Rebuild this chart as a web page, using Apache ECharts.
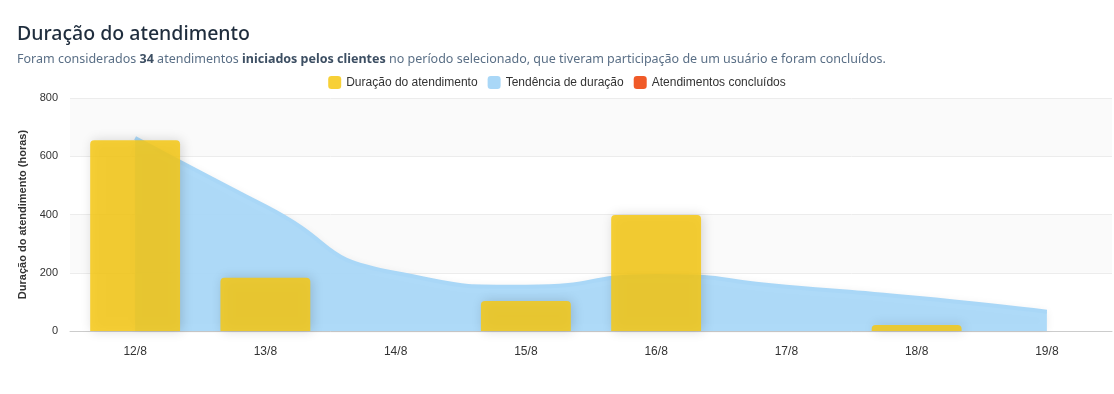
<!DOCTYPE html>
<html>
<head>
<meta charset="utf-8">
<script src="https://cdn.jsdelivr.net/npm/echarts@6/dist/echarts.min.js"></script>
<style>
  html, body { margin: 0; padding: 0; background: #fff; }
  #chart { width: 1114px; height: 394px; }
</style>
</head>
<body>
<div id="chart"></div>
<script>
// dados
const dias = ['12/8', '13/8', '14/8', '15/8', '16/8', '17/8', '18/8', '19/8'];
const duracaoHoras = [655, 183, 0, 103, 398, 0, 21, 0];
const tendencia = [663, 428, 199, 152, 189, 152, 114, 66];
const concluidos = [];
const yTicks = [0, 200, 400, 600, 800];

const chart = echarts.init(document.getElementById('chart'));

const option = {
  animation: false,
  title: {
    left: 12,
    top: 19,
    text: 'Duração do atendimento',
    textStyle: { fontFamily: 'Noto Sans', fontSize: 19.5, fontWeight: 500, color: '#1f2d3d' },
    subtext: 'Foram considerados {b|34} atendimentos {b|iniciados pelos clientes} no período selecionado, que tiveram participação de um usuário e foram concluídos.',
    itemGap: 9,
    subtextStyle: {
      fontFamily: 'Noto Sans', fontSize: 12.5, color: '#5a6f86',
      rich: { b: { fontFamily: 'Noto Sans', fontSize: 12.5, fontWeight: 'bold', color: '#3d4f63' } }
    }
  },
  legend: {
    top: 71,
    left: 'center',
    icon: 'roundRect',
    itemWidth: 13,
    itemHeight: 13,
    itemGap: 10,
    textStyle: { fontFamily: 'Liberation Sans', fontSize: 12, color: '#333' },
    data: ['Duração do atendimento', 'Tendência de duração', 'Atendimentos concluídos']
  },
  grid: { left: 70, right: 2, top: 98, bottom: 63 },
  xAxis: {
    type: 'category',
    data: dias,
    axisLine: { lineStyle: { color: '#cccccc' } },
    axisTick: { length: 6, lineStyle: { color: '#cccccc' } },
    axisLabel: { margin: 15, fontFamily: 'Liberation Sans', fontSize: 12, color: '#333' }
  },
  yAxis: {
    type: 'value',
    min: yTicks[0],
    max: yTicks[yTicks.length - 1],
    interval: 200,
    name: 'Duração do atendimento (horas)',
    nameLocation: 'middle',
    nameGap: 40,
    nameTextStyle: { fontFamily: 'Liberation Sans', fontSize: 11, fontWeight: 'bold', color: '#333' },
    axisLabel: { margin: 12, fontFamily: 'Liberation Sans', fontSize: 11, color: '#333' },
    splitLine: { lineStyle: { color: '#ececec' } },
    splitArea: { show: true, areaStyle: { color: ['#ffffff', '#fafafa'] } }
  },
  series: [
    {
      name: 'Tendência de duração',
      type: 'line',
      data: tendencia,
      smooth: 0.6,
      symbol: 'none',
      z: 2,
      color: '#a9d7f7',
      lineStyle: { color: '#a9d7f7', width: 4 },
      areaStyle: { color: '#aad8f8', opacity: 0.95, shadowBlur: 8, shadowColor: 'rgba(0,0,0,0.08)' }
    },
    {
      name: 'Duração do atendimento',
      type: 'bar',
      data: duracaoHoras,
      barWidth: '69%',
      z: 3,
      color: '#f7c900',
      itemStyle: {
        color: 'rgba(246,200,20,0.85)',
        borderRadius: [4, 4, 0, 0],
        shadowBlur: 12,
        shadowColor: 'rgba(0,0,0,0.18)',
        shadowOffsetX: 2
      }
    },
    {
      name: 'Atendimentos concluídos',
      type: 'line',
      data: concluidos,
      color: '#f05a28',
      symbol: 'none'
    }
  ]
};

chart.setOption(option);
</script>
</body>
</html>
